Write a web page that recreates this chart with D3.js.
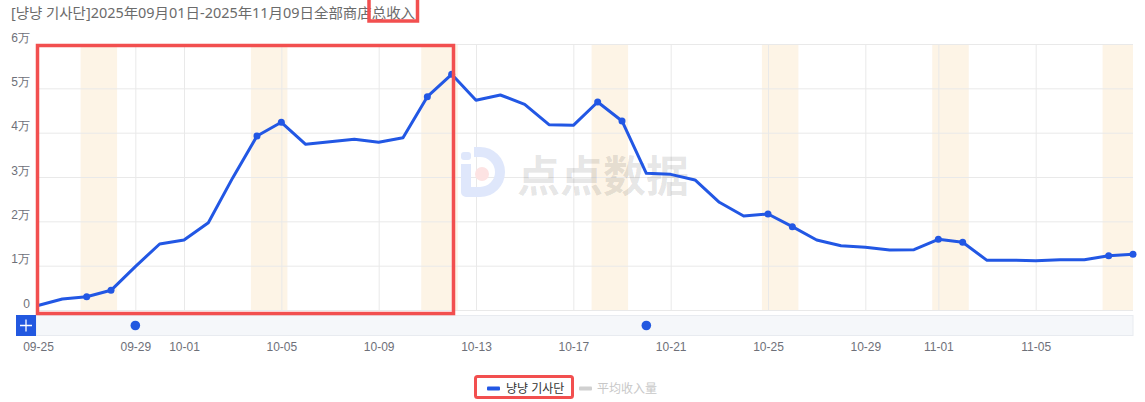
<!DOCTYPE html>
<html>
<head>
<meta charset="utf-8">
<script src="https://cdn.jsdelivr.net/npm/d3@7"></script>
<style>
  html, body { margin: 0; padding: 0; background: #fff; }
  svg { display: block; font-family: "Noto Sans", "Noto Sans CJK SC", "Noto Sans CJK KR", sans-serif; }
</style>
</head>
<body>
<svg id="chart" width="1145" height="402"></svg>
<script>
const titleText = "[냥냥 기사단]2025年09月01日-2025年11月09日全部商店总收入";
const seriesName = "냥냥 기사단";
const avgName = "平均收入量";
const dates = [
  "2025-09-25","2025-09-26","2025-09-27","2025-09-28","2025-09-29","2025-09-30",
  "2025-10-01","2025-10-02","2025-10-03","2025-10-04","2025-10-05","2025-10-06",
  "2025-10-07","2025-10-08","2025-10-09","2025-10-10","2025-10-11","2025-10-12",
  "2025-10-13","2025-10-14","2025-10-15","2025-10-16","2025-10-17","2025-10-18",
  "2025-10-19","2025-10-20","2025-10-21","2025-10-22","2025-10-23","2025-10-24",
  "2025-10-25","2025-10-26","2025-10-27","2025-10-28","2025-10-29","2025-10-30",
  "2025-10-31","2025-11-01","2025-11-02","2025-11-03","2025-11-04","2025-11-05",
  "2025-11-06","2025-11-07","2025-11-08","2025-11-09"
];
const revenue = [
  1000, 2480, 3000, 4440, 9800, 14890,
  15790, 19700, 29800, 39250, 42340, 37380,
  37970, 38500, 37830, 38870, 48120, 53170,
  47300, 48500, 46400, 41800, 41660, 46920,
  42640, 30830, 30600, 29330, 24290, 21200,
  21660, 18800, 15790, 14510, 14140, 13530,
  13600, 15940, 15270, 11200, 11220, 11130,
  11350, 11350, 12250, 12560
];
const xTickDates = ["2025-09-25","2025-09-29","2025-10-01","2025-10-05","2025-10-09","2025-10-13",
  "2025-10-17","2025-10-21","2025-10-25","2025-10-29","2025-11-01","2025-11-05"];
const yTicks = [0, 10000, 20000, 30000, 40000, 50000, 60000];
const sliderHandleDates = ["2025-09-29", "2025-10-20"];

const parse = d3.utcParse("%Y-%m-%d");
const fmt = d3.utcFormat("%m-%d");
const data = dates.map((d, i) => ({ date: parse(d), value: revenue[i] }));

const svg = d3.select("#chart");
const pL = 38, pR = 1133, pT = 44, pB = 310;

const x = d3.scaleUtc().domain([data[0].date, data[data.length - 1].date]).range([pL, pR]);
const y = d3.scaleLinear().domain([0, 60000]).range([pB, pT]);
const dayW = x(data[1].date) - x(data[0].date);

// weekend bands
const isWeekend = d => d.getUTCDay() === 0 || d.getUTCDay() === 6;
const sats = data.filter(d => d.date.getUTCDay() === 6);
svg.append("g").selectAll("rect").data(sats).join("rect")
  .attr("x", d => x(d.date) - dayW * 0.25)
  .attr("width", d => Math.min(dayW * 1.5, pR - (x(d.date) - dayW * 0.25)))
  .attr("y", pT).attr("height", pB - pT)
  .attr("fill", "#fdf4e6");

// grid
const yAxis = d3.axisLeft(y).tickValues(yTicks).tickSize(-(pR - pL)).tickFormat(d => d === 0 ? "0" : (d / 10000) + "万");
const gy = svg.append("g").attr("transform", `translate(${pL},0)`).call(yAxis);
gy.select(".domain").remove();
gy.selectAll(".tick line").attr("stroke", "#e9e9e9");
gy.selectAll(".tick text").attr("fill", "#6e7079").attr("font-size", 12)
  .attr("x", -8).attr("dy", "-0.25em");

const xAxis = d3.axisBottom(x).tickValues(xTickDates.map(parse)).tickSize(-(pB - pT)).tickFormat(fmt);
const gx = svg.append("g").attr("transform", `translate(0,${pB})`).call(xAxis);
gx.select(".domain").remove();
gx.selectAll(".tick line").attr("stroke", "#e9e9e9");
gx.selectAll(".tick text").attr("fill", "#6e7079").attr("font-size", 12).attr("y", 32);

// watermark
const wm = svg.append("g").attr("opacity", 1);
wm.append("rect").attr("x", 461).attr("y", 152).attr("width", 10).attr("height", 8).attr("rx", 3).attr("fill", "#dfe7fb");
wm.append("path").attr("d", "M466,164 L466,192 L480,192 A20,20 0 0 0 480,152 L474,152")
  .attr("fill", "none").attr("stroke", "#dfe7fb").attr("stroke-width", 10).attr("stroke-linejoin", "round");
wm.append("circle").attr("cx", 482).attr("cy", 174).attr("r", 7).attr("fill", "#fde3e3");
wm.append("text").attr("x", 517).attr("y", 192).attr("font-size", 43).attr("font-weight", 700)
  .attr("font-family", "Noto Sans CJK SC")
  .attr("fill", "#000").attr("fill-opacity", 0.11).text("点点数据");

// line
const line = d3.line().x(d => x(d.date)).y(d => y(d.value));
svg.append("path").datum(data).attr("d", line)
  .attr("fill", "none").attr("stroke", "#2257e4").attr("stroke-width", 3).attr("stroke-linejoin", "round");
svg.append("g").selectAll("circle").data(data.filter(d => isWeekend(d.date))).join("circle")
  .attr("cx", d => x(d.date)).attr("cy", d => y(d.value)).attr("r", 3.5).attr("fill", "#2257e4");

// slider
svg.append("rect").attr("x", 36).attr("y", 315.5).attr("width", pR - 36).attr("height", 20)
  .attr("fill", "#f5f7fa").attr("stroke", "#e8ebf0").attr("stroke-width", 1);
svg.append("rect").attr("x", 16).attr("y", 315).attr("width", 20).attr("height", 21).attr("fill", "#2258e0");
svg.append("path").attr("d", "M20,325.5 L32,325.5 M26,319.5 L26,331.5").attr("stroke", "#fff").attr("stroke-width", 1.3);
svg.append("g").selectAll("circle").data(sliderHandleDates.map(parse)).join("circle")
  .attr("cx", d => x(d)).attr("cy", 325.5).attr("r", 4.8).attr("fill", "#2258e0");

// title
svg.append("text").attr("x", 11).attr("y", 18).attr("font-size", 14).attr("fill", "#6b6b6b")
  .attr("textLength", 404).attr("lengthAdjust", "spacingAndGlyphs").text(titleText);

// legend
const lg = svg.append("g");
lg.append("rect").attr("x", 487).attr("y", 386.5).attr("width", 13).attr("height", 4).attr("rx", 1).attr("fill", "#2257e4");
lg.append("text").attr("x", 506).attr("y", 392.5).attr("font-size", 12).attr("fill", "#333").text(seriesName);
lg.append("rect").attr("x", 579).attr("y", 386.5).attr("width", 13).attr("height", 4).attr("rx", 1).attr("fill", "#d0d0d0");
lg.append("text").attr("x", 597).attr("y", 392.5).attr("font-size", 12).attr("fill", "#c8c8c8").text(avgName);

// annotation boxes
const red = "#f24f4f";
svg.append("rect").attr("x", 37.5).attr("y", 45.5).attr("width", 416).attr("height", 268)
  .attr("fill", "none").attr("stroke", red).attr("stroke-width", 3.5);
svg.append("rect").attr("x", 369).attr("y", -2).attr("width", 48.5).attr("height", 23)
  .attr("fill", "none").attr("stroke", red).attr("stroke-width", 3.5);
svg.append("rect").attr("x", 475.5).attr("y", 376.5).attr("width", 97).attr("height", 21).attr("rx", 2)
  .attr("fill", "none").attr("stroke", red).attr("stroke-width", 3);
</script>
</body>
</html>
